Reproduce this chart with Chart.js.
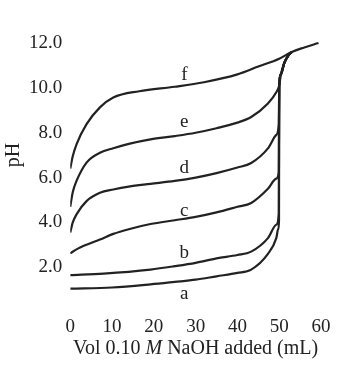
<!DOCTYPE html>
<html>
<head>
<meta charset="utf-8">
<script src="https://cdn.jsdelivr.net/npm/chart.js@4"></script>
<style>
  html, body { margin: 0; padding: 0; background: #fff; }
  #wrap { width: 338px; height: 377px; }
</style>
</head>
<body>
<div id="wrap"><canvas id="titration"></canvas></div>
<script>
// Titratiecurves, pH tegen volume NaOH (mL)
const volA = [0, 10, 19.2, 25, 30, 35, 40, 43.3, 47.3, 49.3, 49.75, 49.95];
const phA  = [1.05, 1.1, 1.24, 1.35, 1.45, 1.6, 1.75, 1.9, 2.6, 3.3, 3.7, 4.1];
const volB = [0, 8, 19.2, 25, 30, 35, 40, 43.3, 47.3, 49.3, 49.9];
const phB  = [1.65, 1.72, 1.9, 2.05, 2.2, 2.4, 2.55, 2.7, 3.3, 3.9, 4.4];
const volC = [0, 1.5, 3.9, 7.1, 10.3, 14, 19.2, 25, 30, 35, 40, 43.3, 47.3, 49.3, 49.9];
const phC  = [2.62, 2.8, 3.01, 3.24, 3.49, 3.7, 3.93, 4.1, 4.25, 4.45, 4.7, 4.87, 5.5, 5.95, 6.25];
const volD = [0, 0.6, 1.5, 3.9, 7.1, 10.3, 14, 19.2, 25, 30, 35, 40, 43.3, 47.3, 49.3, 49.9];
const phD  = [3.55, 4.0, 4.36, 4.95, 5.32, 5.47, 5.6, 5.72, 5.85, 6.0, 6.2, 6.45, 6.65, 7.3, 7.9, 8.4];
const volE = [0, 0.6, 1.5, 3.9, 7.1, 10.3, 14, 19.2, 25, 30, 35, 40, 43.3, 47.3, 49.3];
const phE  = [4.7, 5.35, 5.85, 6.67, 7.11, 7.31, 7.5, 7.7, 7.85, 8.0, 8.2, 8.45, 8.7, 9.3, 9.8];
const volF = [0, 0.6, 1.5, 3.9, 7.1, 10.3, 16.5, 25, 32, 40, 45, 50, 53, 56, 59.4];
const phF  = [6.4, 6.95, 7.48, 8.38, 9.13, 9.57, 9.85, 10.05, 10.25, 10.6, 10.95, 11.3, 11.6, 11.8, 12.0];
// gemeenschappelijk stuk na het equivalentiepunt (curves a t/m e)
const volTail = [50, 50.4, 51.2, 52.2, 53];
const phTail  = [10.1, 10.6, 11.1, 11.45, 11.6];

const curveNames = ["a", "b", "c", "d", "e", "f"];
const labelVol = [27.3, 27.3, 27.3, 27.3, 27.3, 27.3];
const labelPH  = [0.83, 2.63, 4.51, 6.44, 8.46, 10.57];
const yTicks = [2, 4, 6, 8, 10, 12];
const xTicks = [0, 10, 20, 30, 40, 50, 60];

function toPoints(vol, ph) {
    return vol.map((v, i) => ({ x: v, y: ph[i] }));
}

const curves = [
    toPoints(volA.concat(volTail), phA.concat(phTail)),
    toPoints(volB.concat(volTail), phB.concat(phTail)),
    toPoints(volC.concat(volTail), phC.concat(phTail)),
    toPoints(volD.concat(volTail), phD.concat(phTail)),
    toPoints(volE.concat(volTail), phE.concat(phTail)),
    toPoints(volF, phF)
];

const serif = '"Liberation Serif", "DejaVu Serif", serif';
const ink = "#222";

// letters bij de curves en de astitels
const textPlugin = {
    id: "curveText",
    afterDatasetsDraw(chart) {
        const { ctx, scales: { x, y } } = chart;
        ctx.save();
        ctx.fillStyle = ink;
        ctx.textAlign = "center";
        ctx.textBaseline = "middle";
        ctx.font = "19px " + serif;
        curveNames.forEach((n, i) => {
            ctx.fillText(n, x.getPixelForValue(labelVol[i]), y.getPixelForValue(labelPH[i]));
        });

        // y titel "pH"
        ctx.save();
        ctx.translate(14, y.getPixelForValue(7));
        ctx.rotate(-Math.PI / 2);
        ctx.font = "20px " + serif;
        ctx.fillText("pH", 0, 0);
        ctx.restore();

        // x titel met cursieve M
        const parts = [
            { t: "Vol 0.10 ", f: "20px " + serif },
            { t: "M", f: "italic 20px " + serif },
            { t: " NaOH added (mL)", f: "20px " + serif }
        ];
        let total = 0;
        parts.forEach(p => { ctx.font = p.f; p.w = ctx.measureText(p.t).width; total += p.w; });
        let px = (x.left + x.right) / 2 - total / 2;
        const py = x.bottom + 8;
        ctx.textAlign = "left";
        parts.forEach(p => { ctx.font = p.f; ctx.fillText(p.t, px, py); px += p.w; });
        ctx.restore();
    }
};

new Chart(document.getElementById("titration"), {
    type: "scatter",
    data: {
        datasets: curves.map((pts, i) => ({
            label: curveNames[i],
            data: pts,
            showLine: true,
            borderColor: ink,
            borderWidth: 2.2,
            pointRadius: 0,
            cubicInterpolationMode: "monotone"
        }))
    },
    options: {
        responsive: true,
        maintainAspectRatio: false,
        animation: false,
        layout: { padding: { left: 21, right: 17, top: 34, bottom: 36 } },
        plugins: { legend: { display: false }, tooltip: { enabled: false } },
        scales: {
            x: {
                type: "linear",
                min: 0,
                max: 60,
                afterBuildTicks: s => { s.ticks = xTicks.map(v => ({ value: v })); },
                grid: { display: false, drawTicks: false },
                border: { display: false },
                ticks: { color: ink, font: { family: serif, size: 19 }, padding: 3, maxRotation: 0 }
            },
            y: {
                type: "linear",
                min: 0,
                max: 12.4,
                afterBuildTicks: s => { s.ticks = yTicks.map(v => ({ value: v })); },
                grid: { display: false, drawTicks: false },
                border: { display: false },
                ticks: {
                    color: ink,
                    font: { family: serif, size: 19 },
                    padding: 8,
                    callback: v => Number(v).toFixed(1)
                }
            }
        }
    },
    plugins: [textPlugin]
});
</script>
</body>
</html>
